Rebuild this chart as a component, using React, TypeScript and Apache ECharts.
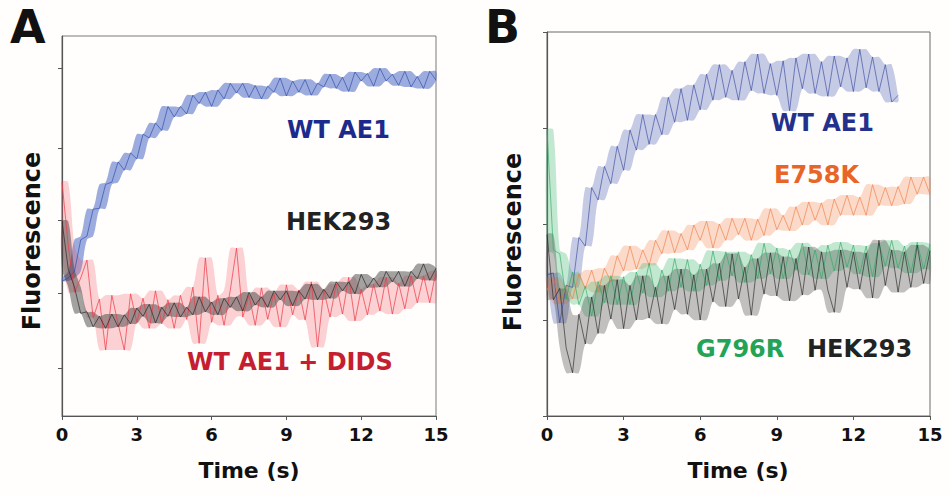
import React, { useEffect, useRef } from "react";
import * as echarts from "echarts";

// Sampling times (s)
const TIMES = [0, 0.25, 0.5, 0.75, 1, 1.25, 1.5, 1.75, 2, 2.25, 2.5, 2.75, 3, 3.25, 3.5, 3.75, 4, 4.25, 4.5, 4.75, 5, 5.25, 5.5, 5.75, 6, 6.25, 6.5, 6.75, 7, 7.25, 7.5, 7.75, 8, 8.25, 8.5, 8.75, 9, 9.25, 9.5, 9.75, 10, 10.25, 10.5, 10.75, 11, 11.25, 11.5, 11.75, 12, 12.25, 12.5, 12.75, 13, 13.25, 13.5, 13.75, 14, 14.25, 14.5, 14.75, 15];

const X_TICKS = [0, 3, 6, 9, 12, 15];

// Panel A (fluorescence, arbitrary units)
const A_WT_AE1 = [2.16, 2.2, 2.29, 2.71, 2.76, 3.12, 3.13, 3.45, 3.48, 3.75, 3.64, 3.87, 3.79, 4.12, 4.07, 4.27, 4.17, 4.49, 4.35, 4.49, 4.39, 4.64, 4.53, 4.68, 4.49, 4.71, 4.59, 4.8, 4.67, 4.8, 4.61, 4.77, 4.59, 4.76, 4.68, 4.87, 4.63, 4.83, 4.68, 4.85, 4.64, 4.8, 4.75, 4.92, 4.73, 4.88, 4.69, 4.95, 4.83, 4.93, 4.76, 5.0, 4.83, 4.92, 4.77, 4.96, 4.75, 4.89, 4.73, 4.96, 4.84];
const A_HEK293 = [2.96, 2.32, 2.08, 1.73, 1.75, 1.55, 1.69, 1.53, 1.72, 1.55, 1.71, 1.59, 1.8, 1.69, 1.85, 1.6, 1.81, 1.69, 1.87, 1.68, 1.81, 1.71, 1.95, 1.75, 1.88, 1.71, 1.93, 1.81, 1.95, 1.76, 2.01, 1.84, 1.95, 1.81, 2.03, 1.91, 2.03, 1.83, 2.03, 1.92, 2.12, 1.91, 2.05, 1.93, 2.15, 2.03, 2.15, 1.99, 2.25, 2.07, 2.2, 2.08, 2.29, 2.15, 2.29, 2.09, 2.29, 2.19, 2.39, 2.17, 2.33];
const A_WT_DIDS = [3.48, 2.64, 2.01, 2.2, 2.44, 1.67, 1.92, 1.24, 1.97, 1.59, 1.24, 1.99, 1.61, 1.93, 1.53, 2.03, 1.59, 1.91, 1.53, 1.97, 1.65, 2.08, 1.33, 2.47, 1.61, 1.97, 1.57, 2.04, 2.6, 1.68, 1.97, 1.57, 2.07, 1.65, 2.0, 1.55, 2.11, 1.71, 2.04, 1.64, 2.15, 1.28, 2.04, 1.68, 2.12, 1.72, 2.21, 1.63, 2.05, 1.71, 2.12, 1.76, 2.21, 1.72, 2.13, 1.79, 2.23, 1.87, 2.23, 1.87, 2.29];
const A_Y_TICKS = [1, 2, 2.97, 3.93, 5];

// Panel B (fluorescence, arbitrary units)
const B_WT_AE1 = [1.47, 1.49, 0.97, 1.36, 1.34, 1.86, 1.77, 2.38, 2.25, 2.6, 2.42, 2.81, 2.56, 2.98, 2.77, 3.14, 2.83, 3.14, 2.93, 3.32, 3.06, 3.41, 3.08, 3.45, 3.19, 3.56, 3.29, 3.66, 3.32, 3.6, 3.29, 3.69, 3.39, 3.77, 3.36, 3.67, 3.34, 3.7, 3.18, 3.73, 3.41, 3.77, 3.36, 3.69, 3.33, 3.75, 3.43, 3.73, 3.38, 3.82, 3.42, 3.74, 3.38, 3.66, 3.27, 3.34];
const B_E758K = [1.31, 1.44, 1.17, 1.35, 1.22, 1.48, 1.33, 1.52, 1.29, 1.54, 1.4, 1.67, 1.51, 1.77, 1.53, 1.73, 1.57, 1.83, 1.69, 1.93, 1.7, 1.9, 1.73, 1.99, 1.83, 2.03, 1.75, 2.0, 1.83, 2.06, 1.89, 2.06, 1.83, 2.05, 1.88, 2.16, 1.94, 2.09, 1.93, 2.18, 1.99, 2.23, 2.04, 2.22, 1.99, 2.26, 2.09, 2.3, 2.09, 2.28, 2.09, 2.41, 2.19, 2.38, 2.19, 2.39, 2.21, 2.49, 2.31, 2.49, 2.31];
const B_G796R = [2.98, 1.73, 1.69, 1.22, 1.5, 1.16, 1.35, 1.04, 1.4, 1.18, 1.46, 1.16, 1.45, 1.16, 1.5, 1.28, 1.59, 1.24, 1.52, 1.3, 1.64, 1.34, 1.63, 1.3, 1.58, 1.36, 1.72, 1.41, 1.71, 1.46, 1.71, 1.39, 1.68, 1.43, 1.8, 1.48, 1.75, 1.43, 1.73, 1.52, 1.8, 1.47, 1.73, 1.43, 1.78, 1.51, 1.81, 1.55, 1.78, 1.48, 1.77, 1.45, 1.8, 1.56, 1.83, 1.54, 1.77, 1.49, 1.81, 1.53, 1.79];
const B_HEK293 = [1.89, 1.21, 1.33, 0.71, 0.45, 1.06, 0.75, 1.24, 0.86, 1.36, 1.01, 1.42, 0.91, 1.36, 1.0, 1.46, 1.02, 1.34, 0.96, 1.46, 1.11, 1.53, 1.06, 1.47, 1.0, 1.53, 1.19, 1.59, 1.14, 1.69, 1.22, 1.55, 1.05, 1.64, 1.27, 1.7, 1.25, 1.66, 1.2, 1.64, 1.26, 1.76, 1.31, 1.71, 1.31, 1.08, 1.73, 1.34, 1.71, 1.32, 1.7, 1.23, 1.83, 1.36, 1.73, 1.29, 1.71, 1.34, 1.78, 1.38, 1.72];

const pairs = (vals: number[]) => vals.map((v, i) => [TIMES[i], v]);

const FONT = '"DejaVu Sans", Verdana, sans-serif';

export default function App() {
  const ref = useRef<HTMLDivElement>(null);

  useEffect(() => {
    if (!ref.current) return;
    const chart = echarts.init(ref.current, null, { renderer: "svg" });
    const axisColor = "#555";

    const xAxis = (gridIndex: number) => ({
      type: "value",
      gridIndex,
      min: 0,
      max: 15,
      interval: 3,
      axisLine: { show: true, onZero: false, lineStyle: { color: axisColor, width: 1.2 } },
      axisTick: { show: true, inside: false, length: 4, lineStyle: { color: axisColor } },
      axisLabel: {
        fontFamily: FONT,
        fontWeight: "bold",
        fontSize: 18,
        color: "#111",
        margin: 9,
        formatter: (v: number) => (X_TICKS.includes(v) ? String(v) : ""),
      },
      splitLine: { show: false },
    });

    const line = (name: string, data: number[], color: string, axis: number, width = 0.9, opacity = 0.7) => ({
      name,
      type: "line",
      xAxisIndex: axis,
      yAxisIndex: axis,
      data: pairs(data),
      showSymbol: false,
      symbol: "none",
      silent: true,
      z: 3,
      lineStyle: { color, width, opacity },
    });

    // Noise envelope of a trace: running min / max of its own read points
    const band = (name: string, vals: number[], color: string, axis: number, opacity: number) => ({
      name: name + " band",
      type: "custom",
      xAxisIndex: axis,
      yAxisIndex: axis,
      silent: true,
      z: 2,
      data: [[TIMES[0], vals[0]]],
      renderItem: (_params: any, api: any) => {
        const n = vals.length;
        const up: number[][] = [];
        const lo: number[][] = [];
        for (let i = 0; i < n; i++) {
          const w = [vals[Math.max(0, i - 1)], vals[i], vals[Math.min(n - 1, i + 1)]];
          up.push(api.coord([TIMES[i], Math.max(...w)]));
          lo.push(api.coord([TIMES[i], Math.min(...w)]));
        }
        return {
          type: "polygon",
          shape: { points: up.concat(lo.reverse()), smooth: 0.3 },
          style: { fill: color, opacity },
        };
      },
    });

    const label = (text: string, x: number, y: number, fill: string, size = 24, align = "left", rotation = 0) => ({
      type: "text",
      x,
      y,
      rotation,
      silent: true,
      style: {
        text,
        fill,
        font: `bold ${size}px ${FONT}`,
        textAlign: align,
        textVerticalAlign: "middle",
      },
    });

    chart.setOption({
      animation: false,
      backgroundColor: "#fffefc",
      grid: [
        { left: 62, top: 36, width: 374, height: 380, show: true, borderColor: "#7a7a7a", borderWidth: 1, backgroundColor: "transparent" },
        { left: 547, top: 32, width: 383, height: 384, show: true, borderColor: "#6a6a6a", borderWidth: 1, backgroundColor: "transparent" },
      ],
      xAxis: [xAxis(0), xAxis(1)],
      yAxis: [
        {
          type: "value",
          gridIndex: 0,
          min: 0.36,
          max: 5.43,
          axisLine: { show: true, onZero: false, lineStyle: { color: axisColor, width: 1.2 } },
          axisTick: { show: true, length: 4, customValues: A_Y_TICKS, lineStyle: { color: axisColor } },
          axisLabel: { show: false },
          splitLine: { show: false },
        },
        {
          type: "value",
          gridIndex: 1,
          min: 0,
          max: 4,
          interval: 1,
          axisLine: { show: true, onZero: false, lineStyle: { color: axisColor, width: 1.2 } },
          axisTick: { show: true, length: 4, lineStyle: { color: axisColor } },
          axisLabel: { show: false },
          splitLine: { show: false },
        },
      ],
      series: [
        band("WT AE1", A_WT_AE1, "#4a68c4", 0, 0.55),
        band("WT AE1 + DIDS", A_WT_DIDS, "#f04a58", 0, 0.25),
        band("HEK293", A_HEK293, "#333333", 0, 0.45),
        line("WT AE1", A_WT_AE1, "#2a46a8", 0),
        line("WT AE1 + DIDS", A_WT_DIDS, "#ee3a48", 0, 0.9, 0.8),
        line("HEK293", A_HEK293, "#1f1f1f", 0),
        band("WT AE1 (B)", B_WT_AE1, "#4256b0", 1, 0.3),
        band("E758K", B_E758K, "#f39060", 1, 0.32),
        band("G796R", B_G796R, "#44bb77", 1, 0.32),
        band("HEK293 (B)", B_HEK293, "#333333", 1, 0.3),
        line("WT AE1 (B)", B_WT_AE1, "#34469e", 1),
        line("E758K", B_E758K, "#f07a40", 1),
        line("G796R", B_G796R, "#2fa862", 1),
        line("HEK293 (B)", B_HEK293, "#222222", 1),
      ],
      graphic: [
        label("A", 10, 27, "#111", 46),
        label("B", 485, 27, "#111", 46),
        label("Fluorescence", 32, 241, "#111", 24, "center", Math.PI / 2),
        label("Fluorescence", 513, 242, "#111", 24, "center", Math.PI / 2),
        label("Time (s)", 249, 470, "#111", 22, "center"),
        label("Time (s)", 738, 470, "#111", 22, "center"),
        label("WT AE1", 287, 130, "#1c2a8c"),
        label("HEK293", 286, 222, "#222222"),
        label("WT AE1 + DIDS", 187, 362, "#c41e30"),
        label("WT AE1", 771, 123, "#23318c"),
        label("E758K", 774, 175, "#e8652a"),
        label("G796R", 696, 349, "#22a356"),
        label("HEK293", 807, 349, "#222222"),
      ],
    });

    return () => chart.dispose();
  }, []);

  return (
    <div
      ref={ref}
      style={{ position: "fixed", left: 0, top: 0, width: 949, height: 495, background: "#fffefc" }}
    />
  );
}
